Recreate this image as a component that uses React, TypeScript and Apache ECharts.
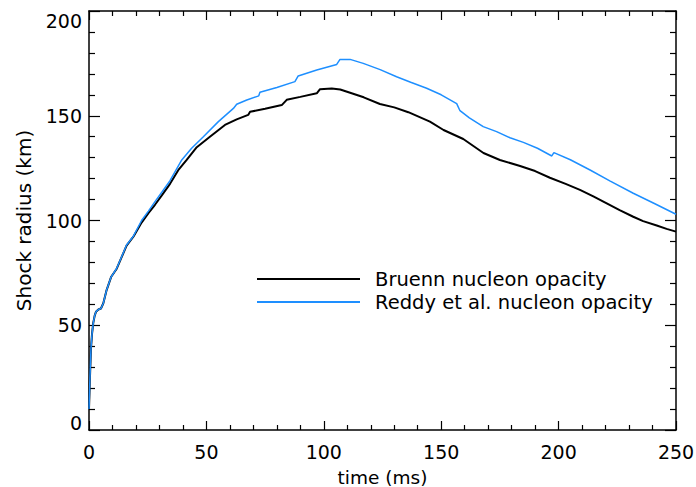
import React, { useEffect, useRef } from "react";
import * as echarts from "echarts";

const seriesNames = ["Bruenn nucleon opacity", "Reddy et al. nucleon opacity"];

const bruennTime = [0, 0.4, 0.85, 1.3, 1.8, 2.4, 3, 4, 5.1, 6.1, 7.5, 9.4, 11.8, 13.9, 16, 18.9, 22.4, 25.3, 28.1, 31, 34.5, 38, 41.6, 45.9, 51.5, 57.9, 62.9, 67.8, 68.6, 75, 82.1, 84.2, 90, 97, 98.4, 103.4, 107, 111.2, 117, 123.9, 130, 136, 145.2, 151, 159.4, 168, 175, 183.6, 190, 196.3, 203, 209.1, 215, 220.5, 226, 231.8, 236, 241.8, 246, 250];
const bruennRadius = [10, 25, 39, 46, 51, 54.5, 56.5, 57.5, 58, 60.5, 66.8, 73, 77, 82.5, 88, 92.3, 99, 103.5, 107.5, 112, 117.5, 124, 128.9, 135, 140, 145.6, 148.3, 150.4, 151.9, 153.3, 155.1, 157.6, 159, 160.7, 162.7, 163, 162.5, 161, 158.8, 155.6, 154, 151.7, 147.2, 143.2, 138.9, 132.2, 128.9, 126, 123.6, 120.4, 117.5, 114.6, 111.4, 108.2, 105, 101.8, 99.7, 97.6, 96, 94.7];

const reddyTime = [0, 0.4, 0.85, 1.3, 1.8, 2.4, 3, 4, 5.1, 6.1, 7.5, 9.4, 11.8, 13.9, 16, 18.9, 22.4, 25.3, 28.1, 31, 34.5, 39.5, 43.7, 48.7, 55.1, 61.5, 62.9, 67.2, 72.3, 72.8, 80, 87.7, 89.1, 97, 105.5, 106.9, 111.2, 116.8, 124, 131, 137, 143.8, 150, 156.6, 158, 162, 167.9, 173.6, 179.3, 185, 191, 197.1, 198, 205, 213.4, 222, 231.8, 241, 250];
const reddyRadius = [10, 25, 39, 46, 51, 54.5, 56.5, 57.5, 58, 60.5, 66.8, 73, 77.2, 82.7, 88.3, 92.5, 100, 104.5, 109, 113.5, 119, 128.9, 134.5, 140, 147.2, 153.5, 155.5, 157.5, 159.5, 161.2, 163.5, 166.3, 169, 171.8, 174.5, 176.9, 176.9, 175, 172, 168.6, 166, 163.1, 160, 155.8, 152.4, 149, 144.8, 142.4, 139.5, 137.3, 134.5, 130.8, 132.4, 129, 124.1, 118.8, 113, 108, 103];

const xMin = 0, xMax = 250, xStep = 50;
const yMin = 0, yMax = 200, yStep = 50;

const FONT = "DejaVu Sans";

export default function App() {
  const ref = useRef<HTMLDivElement>(null);
  useEffect(() => {
    if (!ref.current) return;
    const chart = echarts.init(ref.current, null, { renderer: "svg" });
    const pair = (xs: number[], ys: number[]) => xs.map((x, i) => [x, ys[i]]);
    const axisLine = { show: true, onZero: false, lineStyle: { color: "#000", width: 1.5 } };
    const xCommon = {
      type: "value" as const,
      min: xMin, max: xMax, interval: xStep,
      splitLine: { show: false },
      axisLine,
      minorTick: { show: true, splitNumber: 5, length: 5, lineStyle: { color: "#000", width: 1.2 } },
      axisTick: { show: true, inside: true, length: 9, lineStyle: { color: "#000", width: 1.2 } },
    };
    const yCommon = {
      type: "value" as const,
      min: yMin, max: yMax, interval: yStep,
      splitLine: { show: false },
      axisLine,
      minorTick: { show: true, splitNumber: 5, length: 6, lineStyle: { color: "#000", width: 1.2 } },
      axisTick: { show: true, inside: true, length: 11, lineStyle: { color: "#000", width: 1.2 } },
    };
    chart.setOption({
      animation: false,
      backgroundColor: "#fff",
      textStyle: { fontFamily: FONT },
      grid: { left: 89, right: 20, top: 11, bottom: 57, containLabel: false, outerBoundsMode: "none" },
      legend: {
        orient: "vertical",
        left: 252,
        top: 264,
        itemWidth: 103,
        itemHeight: 2,
        itemGap: 3,
        icon: "rect",
        data: seriesNames,
        textStyle: { fontFamily: FONT, fontSize: 19.5, color: "#000", lineHeight: 20, padding: [0, 0, 0, 10] },
      },
      xAxis: [
        {
          ...xCommon,
          position: "bottom",
          name: "time (ms)",
          nameLocation: "middle",
          nameGap: 39,
          nameMoveOverlap: false,
          nameTextStyle: { fontFamily: FONT, fontSize: 18.5, lineHeight: 16, color: "#000" },
          axisLabel: { show: true, color: "#000", fontFamily: FONT, fontSize: 19, margin: 12 },
        },
        { ...xCommon, position: "top", axisLabel: { show: false } },
      ],
      yAxis: [
        {
          ...yCommon,
          position: "left",
          name: "Shock radius (km)",
          nameLocation: "middle",
          nameGap: 55,
          nameMoveOverlap: false,
          nameTextStyle: { fontFamily: FONT, fontSize: 20, color: "#000" },
          axisLabel: {
            show: true, color: "#000", fontFamily: FONT, fontSize: 19, margin: 7,
            verticalAlignMaxLabel: "top",
            formatter: (v: number) => (v === yMin ? "{lo|" + v + "}" : String(v)),
            rich: { lo: { fontFamily: FONT, fontSize: 19, color: "#000", padding: [0, 0, 14, 0] } },
          },
        },
        { ...yCommon, position: "right", axisLabel: { show: false } },
      ],
      series: [
        {
          name: seriesNames[0],
          type: "line",
          xAxisIndex: 0, yAxisIndex: 0,
          data: pair(bruennTime, bruennRadius),
          showSymbol: false,
          symbol: "none",
          lineStyle: { color: "#000000", width: 2 },
          itemStyle: { color: "#000000" },
          z: 3,
        },
        {
          name: seriesNames[1],
          type: "line",
          xAxisIndex: 0, yAxisIndex: 0,
          data: pair(reddyTime, reddyRadius),
          showSymbol: false,
          symbol: "none",
          lineStyle: { color: "#1e8fff", width: 1.5 },
          itemStyle: { color: "#1e8fff" },
          z: 4,
        },
      ],
    });
    return () => chart.dispose();
  }, []);
  return <div ref={ref} style={{ width: 696, height: 487, position: "absolute", left: 0, top: 0 }} />;
}
